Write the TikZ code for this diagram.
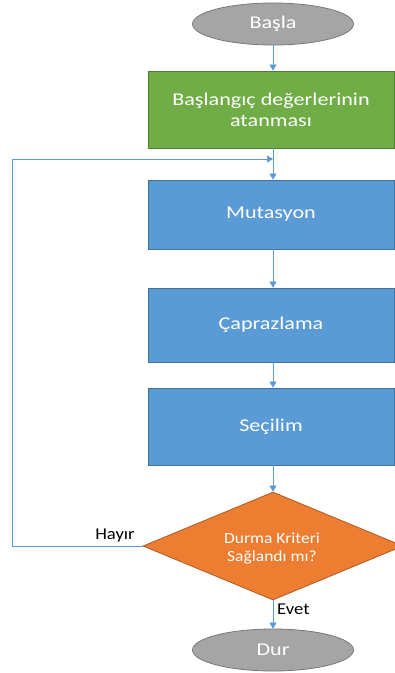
\documentclass[tikz,border=0pt]{standalone}
\usepackage{fontspec}
\setmainfont{Carlito}[FakeStretch=1.13]
\newfontfamily\boxfont{Carlito}[FakeStretch=1.23]
\usetikzlibrary{shapes.geometric,arrows.meta}
\definecolor{cgreen}{HTML}{70AD47}
\definecolor{cgreenB}{HTML}{507E32}
\definecolor{cblue}{HTML}{5B9BD5}
\definecolor{cblueB}{HTML}{41719C}
\definecolor{corange}{HTML}{ED7D31}
\definecolor{corangeB}{HTML}{AE5A21}
\definecolor{cgray}{HTML}{A5A5A5}
\definecolor{cgrayB}{HTML}{787878}
\definecolor{cline}{HTML}{5B9BD5}
\tikzset{
  term/.style={ellipse, draw=cgrayB, fill=cgray, line width=0.8pt, minimum width=161pt, minimum height=42pt, inner sep=0pt, text=white, font=\boxfont\fontsize{18}{21}\selectfont},
  procbox/.style={rectangle, draw=cblueB, fill=cblue, line width=0.8pt, minimum width=246pt, inner sep=0pt, text=white, font=\boxfont\fontsize{18}{21}\selectfont, align=center},
  greenbox/.style={procbox, draw=cgreenB, fill=cgreen},
  decide/.style={diamond, draw=corangeB, fill=corange, line width=0.8pt, minimum width=260pt, minimum height=108pt, inner sep=0pt, aspect=2.4},
  decidetext/.style={text=white, font=\fontsize{15.5}{18}\selectfont, align=center, inner sep=0pt},
  conn/.style={draw=cline, line width=0.7pt, -{Triangle[width=7pt,length=6pt]}},
  lbl/.style={font=\fontsize{16.5}{18}\selectfont, text=black, inner sep=0pt}
}
\begin{document}
\begin{tikzpicture}[x=1pt,y=-1pt]
\useasboundingbox (0,0) rectangle (395,673);
\node[term] (start) at (273,24) {Başla};
\node[greenbox, minimum height=77pt] (init) at (271,109.5) {Başlangıç değerlerinin\\atanması};
\node[procbox, minimum height=69pt] (mut) at (271,214.5) {Mutasyon};
\node[procbox, minimum height=74pt] (cap) at (271,325) {Çaprazlama};
\node[procbox, minimum height=77pt] (sec) at (271,426.5) {Seçilim};
\node[decide] (dec) at (273,546) {};
\node[decidetext] (dectext) at (272,548) {Durma Kriteri\\Sağlandı mı?};
\node[term] (stop) at (273,650) {Dur};
\coordinate (join) at (273,159);
\coordinate (lx) at (12,159);
\draw[conn] (start) -- (start.south |- init.north);
\draw[conn] (init.south -| start.south) -- (start.south |- mut.north);
\draw[conn] (mut.south -| start.south) -- (start.south |- cap.north);
\draw[conn] (cap.south -| start.south) -- (start.south |- sec.north);
\draw[conn] (sec.south -| start.south) -- (dec.north);
\draw[conn] (dec.south) -- (stop.north);
\draw[conn] (dec.west) -| (lx) -- (join);
\node[lbl, anchor=base] (hayir) at (115,539) {Hayır};
\node[lbl, anchor=base west] (evet) at (277,614) {Evet};
\end{tikzpicture}
\end{document}
